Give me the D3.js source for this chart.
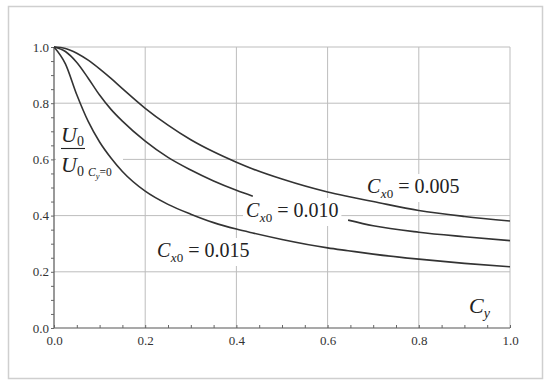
<!DOCTYPE html>
<html><head><meta charset="utf-8">
<script src="https://cdn.jsdelivr.net/npm/d3@7"></script>
<style>html,body{margin:0;padding:0;background:#fff;}svg{display:block;}</style>
</head><body>
<svg id="chart" width="550" height="386"></svg>
<script>
// ---- data ----
const cy = [0, 0.025, 0.05, 0.075, 0.1, 0.125, 0.15, 0.2, 0.25, 0.3, 0.35, 0.4, 0.436, 0.5, 0.6, 0.645, 0.7, 0.8, 0.9, 1.0];
const u005 = [1.0, 0.995, 0.978, 0.953, 0.922, 0.888, 0.852, 0.782, 0.722, 0.67, 0.627, 0.59, 0.566, 0.53, 0.484, 0.468, 0.45, 0.418, 0.397, 0.381];
const u010 = [1.0, 0.984, 0.945, 0.889, 0.829, 0.778, 0.736, 0.665, 0.607, 0.562, 0.523, 0.49, 0.469, 0.438, 0.398, 0.384, 0.364, 0.341, 0.325, 0.311];
const u015 = [1.0, 0.94, 0.83, 0.735, 0.662, 0.605, 0.557, 0.487, 0.44, 0.405, 0.375, 0.352, 0.338, 0.315, 0.285, 0.275, 0.263, 0.245, 0.23, 0.218];
const seriesNames = ["0.005", "0.010", "0.015"];
const majorTicks = [0, 0.2, 0.4, 0.6, 0.8, 1.0];
const tickLabels = ["0.0", "0.2", "0.4", "0.6", "0.8", "1.0"];
const minorTicks = d3.range(0, 1.0001, 0.05);
const gap010 = [0.436, 0.645];

const svg = d3.select("#chart");
const x = d3.scaleLinear().domain([0, 1]).range([54, 510]);
const y = d3.scaleLinear().domain([0, 1]).range([328, 47]);
const serif = "Liberation Serif, Times New Roman, serif";

// outer frame
svg.append("rect").attr("x", 8.5).attr("y", 6.5).attr("width", 534).attr("height", 372)
  .attr("fill", "#fff").attr("stroke", "#cfcfcf").attr("stroke-width", 1.5);

// grid
const grid = svg.append("g").attr("stroke", "#bdbdbd").attr("stroke-width", 1);
majorTicks.slice(1).forEach(v => {
  grid.append("line").attr("x1", x(v)).attr("x2", x(v)).attr("y1", y(0)).attr("y2", y(1));
  grid.append("line").attr("x1", x(0)).attr("x2", x(1)).attr("y1", y(v)).attr("y2", y(v));
});

// label backgrounds (hide grid)
const bgs = svg.append("g").attr("fill", "#fff");

// axes lines
svg.append("line").attr("x1", x(0)).attr("x2", x(1)).attr("y1", y(0)).attr("y2", y(0)).attr("stroke", "#555").attr("stroke-width", 1.2);
svg.append("line").attr("x1", x(0)).attr("x2", x(0)).attr("y1", y(0)).attr("y2", y(1)).attr("stroke", "#555").attr("stroke-width", 1.2);

// minor ticks via d3 axes
const xMinor = svg.append("g").attr("transform", `translate(0,${y(0)})`)
  .call(d3.axisBottom(x).tickValues(minorTicks).tickSizeInner(-3).tickSizeOuter(0).tickFormat(""));
const yMinor = svg.append("g").attr("transform", `translate(${x(0)},0)`)
  .call(d3.axisLeft(y).tickValues(minorTicks).tickSizeInner(3).tickSizeOuter(0).tickFormat(""));
[xMinor, yMinor].forEach(g => { g.select(".domain").remove(); g.selectAll("line").attr("stroke", "#666"); });

// tick labels via d3 axes
const xAx = svg.append("g").attr("transform", `translate(0,${y(0)})`)
  .call(d3.axisBottom(x).tickValues(majorTicks).tickSize(0).tickPadding(8).tickFormat((d, i) => tickLabels[i]));
const yAx = svg.append("g").attr("transform", `translate(${x(0)},0)`)
  .call(d3.axisLeft(y).tickValues(majorTicks).tickSize(0).tickPadding(5).tickFormat((d, i) => tickLabels[i]));
[xAx, yAx].forEach(g => {
  g.select(".domain").remove();
  g.attr("font-family", serif).attr("font-size", 13);
  g.selectAll("text").attr("font-family", serif).attr("font-size", 13).attr("fill", "#333");
});

// curve labels
function cLabel(xp, yp, val) {
  const t = svg.append("text").attr("x", xp).attr("y", yp).attr("font-family", serif).attr("font-size", 20).attr("fill", "#222");
  t.append("tspan").attr("font-style", "italic").text("C");
  t.append("tspan").attr("font-style", "italic").attr("font-size", 13).attr("dy", 5).attr("dx", 0.5).text("x");
  t.append("tspan").attr("font-size", 13).text("0");
  t.append("tspan").attr("dy", -5).text(" = " + val);
  return t;
}
const labelPos = [[367, 193], [246, 217], [157, 257]];
const labelNodes = seriesNames.map((n, i) => cLabel(labelPos[i][0], labelPos[i][1], n));
labelNodes.forEach(t => {
  const b = t.node().getBBox();
  bgs.append("rect").attr("x", b.x - 3).attr("y", b.y - 1).attr("width", b.width + 6).attr("height", b.height + 2);
});

// y axis label  U0 / U0 Cy=0
bgs.append("rect").attr("x", x(0) + 2).attr("y", 124).attr("width", 67).attr("height", 58);
const yl = svg.append("g").attr("font-family", serif).attr("fill", "#222");
const num = yl.append("text").attr("x", 61).attr("y", 142).attr("font-size", 22);
num.append("tspan").attr("font-style", "italic").text("U");
num.append("tspan").attr("font-size", 14).attr("dy", 4).text("0");
yl.append("line").attr("x1", 61).attr("x2", 85).attr("y1", 148.5).attr("y2", 148.5).attr("stroke", "#222").attr("stroke-width", 1.1);
const den = yl.append("text").attr("x", 61).attr("y", 171.5).attr("font-size", 22);
den.append("tspan").attr("font-style", "italic").text("U");
den.append("tspan").attr("font-size", 14).attr("dy", 4).text("0");
const sub = yl.append("text").attr("x", 88).attr("y", 176).attr("font-size", 11.5);
sub.append("tspan").attr("font-style", "italic").text("C");
sub.append("tspan").attr("font-style", "italic").attr("font-size", 8.5).attr("dy", 3).text("y");
sub.append("tspan").attr("dy", -3).text("=0");

// x axis label Cy
const xl = svg.append("text").attr("x", 469).attr("y", 313).attr("font-family", serif).attr("font-size", 22).attr("fill", "#222");
xl.append("tspan").attr("font-style", "italic").text("C");
xl.append("tspan").attr("font-style", "italic").attr("font-size", 14).attr("dy", 5).text("y");

// curves
const data = [u005, u010, u015].map(arr => cy.map((c, i) => ({ x: c, y: arr[i] })));
const lineGen = d3.line().x(d => x(d.x)).y(d => y(d.y)).curve(d3.curveMonotoneX);
const lineGap = d3.line().defined(d => d.x <= gap010[0] || d.x >= gap010[1]).x(d => x(d.x)).y(d => y(d.y)).curve(d3.curveMonotoneX);
svg.append("g").selectAll("path").data(data).join("path")
  .attr("d", (d, i) => i === 1 ? lineGap(d) : lineGen(d))
  .attr("fill", "none").attr("stroke", "#333").attr("stroke-width", 1.6);
</script>
</body></html>
